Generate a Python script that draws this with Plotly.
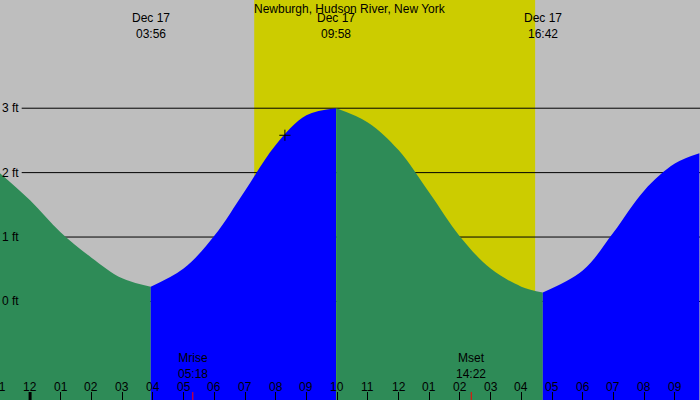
import plotly.graph_objects as go

# tide height (ft), hour of day (Dec 17)
hours = [-1, 0, 1, 2, 3, 3.93, 5, 6, 7, 8, 9, 9.97, 11, 12, 13, 14, 15, 16, 16.7, 18, 19, 20, 21, 21.8]
height = [2.0, 1.57, 1.07, 0.68, 0.36, 0.23, 0.51, 1.02, 1.72, 2.43, 2.89, 3.0,
          2.78, 2.35, 1.69, 1.01, 0.51, 0.23, 0.14, 0.48, 1.07, 1.72, 2.14, 2.3]
# indices where the tide turns
turns = [5, 11, 18]

extreme_hours = [3.93, 9.97, 16.7]
extreme_labels = ["Dec 17<br>03:56", "Dec 17<br>09:58", "Dec 17<br>16:42"]
sunrise, sunset = 7.3, 16.45
moon_hours = [5.3, 14.37]
moon_labels = ["Mrise<br>05:18", "Mset<br>14:22"]
tick_hours = list(range(-1, 22))
ft_levels = [0, 1, 2, 3]
now_hour, now_height = 8.3, 2.58

XR = [-0.98, 21.82]
YR = [-1.53, 4.68]
font = dict(family="Liberation Sans, Arial, sans-serif", size=12, color="black")

fig = go.Figure()
bounds = [0] + turns + [len(hours) - 1]
for k in range(len(bounds) - 1):
    a, b = bounds[k], bounds[k + 1]
    xs = hours[a:b + 1]
    ys = height[a:b + 1]
    col = "#2e8b57" if k % 2 == 0 else "#0000ff"
    fig.add_trace(go.Scatter(x=xs, y=[YR[0] - 1] * len(xs), mode="lines",
                             line=dict(width=0), hoverinfo="skip"))
    fig.add_trace(go.Scatter(x=xs, y=ys, mode="lines", fill="tonexty",
                             fillcolor=col, line=dict(width=0, color=col, shape="spline")))

fig.add_trace(go.Scatter(x=[now_hour], y=[now_height], mode="markers",
                         marker=dict(symbol="cross-thin", size=8,
                                     line=dict(width=1, color="black"))))

shapes = [dict(type="rect", x0=sunrise, x1=sunset, y0=0, y1=1, yref="paper",
               fillcolor="#cccc00", line_width=0, layer="below")]
for f in ft_levels:
    shapes.append(dict(type="line", xref="paper", x0=0.031, x1=1, y0=f, y1=f,
                       line=dict(color="black", width=1), layer="below"))
for m in moon_hours:
    shapes.append(dict(type="line", x0=m, x1=m, y0=0, y1=0.02, yref="paper",
                       line=dict(color="red", width=1)))
shapes.append(dict(type="line", x0=0, x1=0, y0=0, y1=0.02, yref="paper",
                   line=dict(color="black", width=3)))

ann = [dict(x=0.5, y=1, xref="paper", yref="paper", text="Newburgh, Hudson River, New York",
            showarrow=False, yanchor="top", yshift=0, font=font)]
for h, t in zip(extreme_hours, extreme_labels):
    ann.append(dict(x=h, y=1, yref="paper", text=t, showarrow=False,
                    yanchor="top", yshift=-9, font=font))
for h, t in zip(moon_hours, moon_labels):
    ann.append(dict(x=h, y=0, yref="paper", text=t, showarrow=False,
                    yanchor="bottom", yshift=17, font=font))
for h in tick_hours:
    lab = "%02d" % ((h % 12) or 12)
    xpos, xs_px = (h, 0) if h >= XR[0] else (XR[0], (h - XR[0]) * 30.7)
    ann.append(dict(x=xpos, y=0, yref="paper", text=lab, showarrow=False,
                    yanchor="bottom", yshift=4, xshift=xs_px, font=font))
for f in ft_levels:
    ann.append(dict(x=0, xref="paper", y=f, text="%d ft" % f, showarrow=False,
                    xanchor="left", yanchor="middle", xshift=0, font=font))

fig.update_layout(
    width=700, height=400, margin=dict(l=0, r=0, t=0, b=0, pad=0, autoexpand=False),
    paper_bgcolor="#bebebe", plot_bgcolor="#bebebe",
    showlegend=False, shapes=shapes, annotations=ann,
    xaxis=dict(range=XR, tickvals=tick_hours, ticks="inside", ticklen=8,
               tickcolor="black", showticklabels=False, showgrid=False, zeroline=False),
    yaxis=dict(range=YR, showticklabels=False, showgrid=False, zeroline=False),
)
fig.write_html("out.html", config={"displayModeBar": False},
               post_script="document.body.style.margin='0';")
